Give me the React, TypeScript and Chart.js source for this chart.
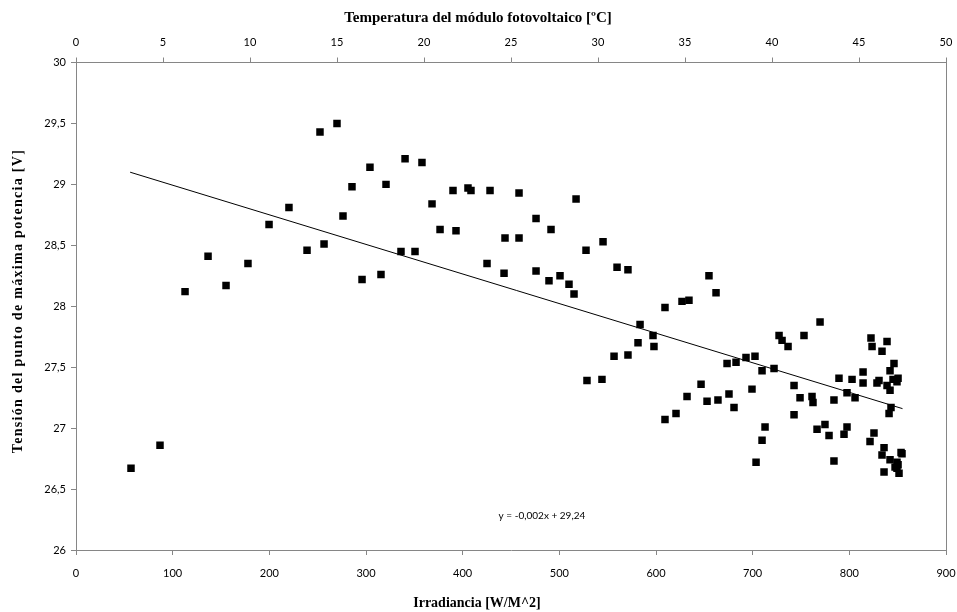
import React, { useEffect, useRef } from "react";
import { Chart, registerables } from "chart.js";

Chart.register(...registerables);

// Irradiance [W/m^2]
const irradiance = [
  56.9, 86.9, 112.8, 136.6, 155.2, 177.9, 199.7, 220.3, 239.0, 252.4,
  256.6, 270.0, 276.2, 285.5, 295.9, 304.1, 315.5, 320.7, 336.2, 340.4,
  350.7, 357.9, 368.3, 376.6, 390.0, 393.1, 405.5, 408.6, 425.2, 428.3,
  442.8, 443.8, 458.3, 458.3, 475.9, 475.9, 489.3, 491.4, 500.7, 510.0,
  515.2, 517.3, 527.6, 528.6, 544.1, 545.2, 556.6, 559.7, 571.0, 571.0,
  581.4, 583.5, 596.9, 597.9, 609.3, 609.3, 620.7, 626.9, 632.1, 634.1,
  646.6, 652.8, 654.8, 662.1, 664.1, 673.5, 675.5, 680.7, 682.8, 693.1,
  699.3, 702.4, 703.5, 709.7, 709.7, 712.8, 722.1, 727.3, 730.4, 736.6,
  742.8, 742.8, 749.0, 753.1, 761.4, 762.4, 766.6, 769.7, 774.8, 779.0,
  784.1, 784.1, 789.3, 794.5, 797.6, 797.6, 802.8, 805.9, 814.2, 814.2,
  821.4, 822.4, 823.5, 825.5, 828.6, 830.7, 833.8, 833.8, 835.9, 835.9,
  839.0, 839.0, 841.1, 842.1, 842.1, 842.1, 843.1, 845.2, 846.2, 847.3,
  849.3, 849.3, 849.3, 850.4, 850.4, 851.4, 853.5, 854.5,
];

// MPP voltage [V]
const voltage = [
  26.67, 26.86, 28.12, 28.41, 28.17, 28.35, 28.67, 28.81, 28.46, 29.43,
  28.51, 29.5, 28.74, 28.98, 28.22, 29.14, 28.26, 29.0, 28.45, 29.21,
  28.45, 29.18, 28.84, 28.63, 28.95, 28.62, 28.97, 28.95, 28.35, 28.95,
  28.27, 28.56, 28.93, 28.56, 28.72, 28.29, 28.21, 28.63, 28.25, 28.18,
  28.1, 28.88, 28.46, 27.39, 27.4, 28.53, 27.59, 28.32, 28.3, 27.6,
  27.7, 27.85, 27.76, 27.67, 27.99, 27.07, 27.12, 28.04, 27.26, 28.05,
  27.36, 27.22, 28.25, 28.11, 27.23, 27.53, 27.28, 27.17, 27.54, 27.58,
  27.32, 27.59, 26.72, 27.47, 26.9, 27.01, 27.49, 27.76, 27.72, 27.67,
  27.35, 27.11, 27.25, 27.76, 27.26, 27.21, 26.99, 27.87, 27.03, 26.94,
  27.23, 26.73, 27.41, 26.95, 27.29, 27.01, 27.4, 27.25, 27.46, 27.37,
  26.89, 27.74, 27.67, 26.96, 27.37, 27.39, 27.63, 26.78, 26.84, 26.64,
  27.71, 27.35, 27.12, 27.47, 27.31, 26.74, 27.17, 27.4, 27.53, 26.68,
  27.38, 26.72, 26.67, 27.41, 26.7, 26.63, 26.8, 26.79,
];

// Linear trend line end points
const trendX = [56, 855];
const trendY = [29.1, 27.16];
const trendLabel = "y = -0,002x + 29,24";
const trendLabelAt = { x: 482, y: 26.28 };

// Axis ranges / ticks
const xRange = [0, 900];
const xStep = 100;
const tempRange = [0, 50];
const tempStep = 5;
const yRange = [26, 30];
const yStep = 0.5;

const xTitle = "Irradiancia [W/M^2]";
const yTitle = "Tensión del punto de máxima potencia [V]";
const topTitle = "Temperatura del módulo fotovoltaico [ºC]";

const AXIS = "#868686";
const TICKFONT = "'Liberation Sans Narrow', Lato, 'DejaVu Sans Condensed', sans-serif";
const SERIF = "'Liberation Serif', 'Times New Roman', serif";

const fmt = (v: number | string) => String(v).replace(".", ",");

const noPad = (s: any) => {
  s.paddingLeft = 0;
  s.paddingRight = 0;
  s.paddingTop = 0;
  s.paddingBottom = 0;
};

export default function App() {
  const ref = useRef<HTMLCanvasElement | null>(null);

  useEffect(() => {
    const canvas = ref.current;
    if (!canvas) return;

    const textPlugin = {
      id: "texts",
      afterDraw(chart: any) {
        const { ctx, scales } = chart;
        ctx.save();
        ctx.fillStyle = "#000";
        ctx.textAlign = "center";
        ctx.textBaseline = "middle";
        // trend equation
        ctx.font = `10px ${TICKFONT}`;
        ctx.fillText(
          trendLabel,
          scales.x.getPixelForValue(trendLabelAt.x),
          scales.y.getPixelForValue(trendLabelAt.y)
        );
        // top title
        ctx.font = `bold 15px ${SERIF}`;
        ctx.fillText(topTitle, 478, 18);
        // bottom title
        ctx.font = `bold 14px ${SERIF}`;
        ctx.fillText(xTitle, 477, 603);
        // left title
        ctx.translate(18, 301);
        ctx.rotate(-Math.PI / 2);
        ctx.font = `bold 14px ${SERIF}`;
        (ctx as any).letterSpacing = "1.3px";
        ctx.fillText(yTitle, 0, 0);
        ctx.restore();
      },
    };

    const points = irradiance.map((x, i) => ({ x, y: voltage[i] }));
    const trend = trendX.map((x, i) => ({ x, y: trendY[i] }));

    const tickFont = { family: TICKFONT, size: 11 };

    const chart = new Chart(canvas, {
      type: "scatter",
      data: {
        datasets: [
          {
            type: "scatter",
            data: points,
            pointStyle: "rect",
            radius: 5.3,
            backgroundColor: "#000",
            borderWidth: 0,
            xAxisID: "x",
            yAxisID: "y",
          },
          {
            type: "line",
            data: trend,
            borderColor: "#000",
            borderWidth: 1,
            pointRadius: 0,
            fill: false,
            xAxisID: "x",
            yAxisID: "y",
          } as any,
        ],
      },
      plugins: [textPlugin],
      options: {
        animation: false,
        responsive: false,
        devicePixelRatio: 1,
        layout: { padding: 0 },
        plugins: {
          legend: { display: false },
          tooltip: { enabled: false },
        },
        scales: {
          x: {
            type: "linear",
            position: "bottom",
            min: xRange[0],
            max: xRange[1],
            ticks: {
              stepSize: xStep,
              color: "#000",
              font: tickFont,
              padding: 12,
              maxRotation: 0,
            },
            grid: { drawOnChartArea: false, drawTicks: true, tickLength: 5, color: AXIS },
            border: { display: true, color: AXIS, width: 1 },
            afterFit: (s: any) => {
              s.height = 62;
              noPad(s);
            },
          },
          x2: {
            type: "linear",
            position: "top",
            min: tempRange[0],
            max: tempRange[1],
            ticks: {
              stepSize: tempStep,
              color: "#000",
              font: tickFont,
              padding: 8,
              maxRotation: 0,
            },
            grid: { drawOnChartArea: false, drawTicks: true, tickLength: 5, color: AXIS },
            border: { display: true, color: AXIS, width: 1 },
            afterFit: (s: any) => {
              s.height = 62.5;
              noPad(s);
            },
          },
          y: {
            type: "linear",
            position: "left",
            min: yRange[0],
            max: yRange[1],
            ticks: {
              stepSize: yStep,
              color: "#000",
              font: tickFont,
              padding: 5,
              callback: (v: any) => fmt(v),
            },
            grid: { drawOnChartArea: false, drawTicks: true, tickLength: 5, color: AXIS },
            border: { display: true, color: AXIS, width: 1 },
            afterFit: (s: any) => {
              s.width = 76;
              noPad(s);
            },
          },
          y2: {
            type: "linear",
            position: "right",
            min: yRange[0],
            max: yRange[1],
            ticks: { display: false },
            grid: { display: false },
            border: { display: true, color: AXIS, width: 1 },
            afterFit: (s: any) => {
              s.width = 11;
              noPad(s);
            },
          },
        },
      },
    });

    return () => chart.destroy();
  }, []);

  return (
    <div style={{ position: "fixed", left: 0, top: 0, width: 957, height: 612, background: "#fff" }}>
      <canvas ref={ref} width={957} height={612} />
    </div>
  );
}
